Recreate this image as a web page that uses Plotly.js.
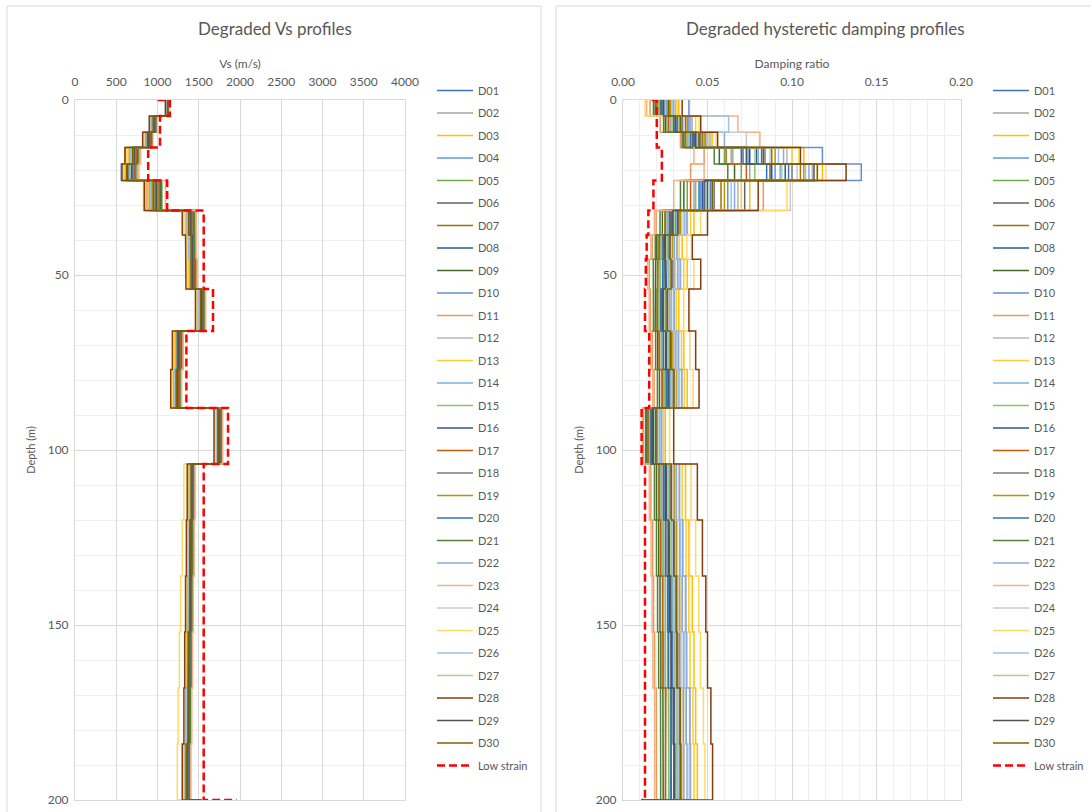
<!DOCTYPE html>
<html>
<head>
<meta charset="utf-8">
<script src="https://cdn.plot.ly/plotly-3.0.1.min.js"></script>
<style>
html,body{margin:0;padding:0;background:#ffffff;}
#chart{width:1091px;height:812px;}
</style>
</head>
<body>
<div id="chart"></div>
<script>
// ---------- layer geometry (m) ----------
const layerTop    = [0, 4.6, 9.2, 13.6, 18.3, 23, 31.6, 38.6, 45.5, 54, 66, 77, 88, 104, 120, 136, 152, 168, 184];
const layerBottom = [4.6, 9.2, 13.6, 18.3, 23, 31.6, 38.6, 45.5, 54, 66, 77, 88, 104, 120, 136, 152, 168, 184, 200];
const baseDepth = 200;

const seriesNames = ['D01','D02','D03','D04','D05','D06','D07','D08','D09','D10',
                     'D11','D12','D13','D14','D15','D16','D17','D18','D19','D20',
                     'D21','D22','D23','D24','D25','D26','D27','D28','D29','D30'];
const seriesColors = ['#4472C4','#A5A5A5','#FFC000','#5B9BD5','#70AD47','#636363','#997300','#255E91','#43682B','#698ED0',
                      '#F1975A','#B7B7B7','#FFCD33','#7CAFDD','#8CC168','#2F5597','#C55A11','#7B7B7B','#BF9000','#2E75B6',
                      '#548235','#8FAADC','#F4B183','#C9C9C9','#FFD966','#9DC3E6','#A9D18E','#843C0C','#525252','#7F6000'];

// ---------- degraded Vs (m/s), one value per layer ----------
const vsD01 = [1120, 945, 881, 695, 659, 951, 1381, 1403, 1410, 1519, 1243, 1223, 1735, 1405, 1395, 1385, 1375, 1365, 1350];
const vsD02 = [1131, 965, 908, 735, 705, 1009, 1417, 1431, 1439, 1545, 1271, 1251, 1757, 1425, 1415, 1405, 1395, 1385, 1372];
const vsD03 = [1106, 920, 847, 645, 601, 878, 1336, 1368, 1374, 1486, 1208, 1188, 1707, 1380, 1370, 1360, 1350, 1340, 1322];
const vsD04 = [1125, 955, 894, 715, 682, 980, 1399, 1417, 1425, 1532, 1257, 1237, 1746, 1415, 1405, 1395, 1385, 1375, 1361];
const vsD05 = [1134, 970, 915, 745, 716, 1023, 1426, 1438, 1447, 1551, 1278, 1258, 1762, 1430, 1420, 1410, 1400, 1390, 1377];
const vsD06 = [1128, 960, 901, 725, 693, 900, 1408, 1424, 1432, 1538, 1264, 1244, 1751, 1420, 1410, 1400, 1390, 1380, 1366];
const vsD07 = [1117, 940, 874, 685, 647, 936, 1372, 1396, 1403, 1512, 1236, 1216, 1729, 1400, 1390, 1380, 1370, 1360, 1344];
const vsD08 = [1122, 950, 888, 705, 670, 965, 1390, 1410, 1418, 1525, 1250, 1230, 1740, 1410, 1400, 1390, 1380, 1370, 1355];
const vsD09 = [1137, 977, 919, 757, 725, 1040, 1437, 1443, 1456, 1556, 1287, 1263, 1770, 1433, 1427, 1413, 1407, 1393, 1385];
const vsD10 = [1114, 935, 867, 615, 560, 922, 1363, 1389, 1396, 1506, 1229, 1209, 1724, 1395, 1385, 1375, 1365, 1355, 1339];
const vsD11 = [1145, 990, 942, 785, 762, 860, 1462, 1466, 1476, 1577, 1306, 1286, 1784, 1450, 1440, 1430, 1420, 1410, 1399];
const vsD12 = [1111, 930, 861, 665, 624, 907, 1354, 1382, 1389, 1499, 1222, 1202, 1718, 1390, 1380, 1370, 1360, 1350, 1333];
const vsD13 = [1109, 925, 854, 655, 613, 893, 1345, 1375, 1381, 1493, 1215, 1195, 1713, 1385, 1375, 1365, 1355, 1345, 1328];
const vsD14 = [1120, 948, 891, 702, 674, 962, 1393, 1407, 1421, 1522, 1253, 1227, 1743, 1408, 1402, 1387, 1383, 1367, 1358];
const vsD15 = [1129, 963, 911, 731, 708, 1005, 1420, 1428, 1442, 1542, 1274, 1248, 1760, 1423, 1417, 1402, 1398, 1382, 1375];
const vsD16 = [1123, 953, 897, 712, 686, 976, 1402, 1414, 1428, 1529, 1260, 1234, 1749, 1413, 1407, 1392, 1388, 1372, 1364];
const vsD17 = [1132, 968, 917, 742, 719, 1020, 1429, 1435, 1449, 1548, 1281, 1255, 1765, 1428, 1422, 1407, 1403, 1387, 1380];
const vsD18 = [1118, 943, 884, 692, 662, 948, 1384, 1400, 1413, 1516, 1246, 1220, 1738, 1403, 1397, 1382, 1378, 1362, 1353];
const vsD19 = [1115, 938, 877, 682, 650, 933, 1375, 1393, 1406, 1509, 1239, 1213, 1732, 1398, 1392, 1377, 1373, 1357, 1347];
const vsD20 = [1126, 958, 904, 722, 697, 991, 1411, 1421, 1435, 1535, 1267, 1241, 1754, 1418, 1412, 1397, 1393, 1377, 1369];
const vsD21 = [1139, 980, 928, 765, 739, 1052, 1444, 1452, 1461, 1564, 1292, 1272, 1773, 1440, 1430, 1420, 1410, 1400, 1388];
const vsD22 = [1109, 928, 850, 662, 627, 904, 1357, 1379, 1392, 1496, 1225, 1199, 1721, 1388, 1382, 1367, 1363, 1347, 1336];
const vsD23 = [1147, 905, 825, 795, 774, 1096, 1471, 1473, 1483, 1584, 1313, 1293, 1790, 1455, 1445, 1435, 1425, 1415, 1405];
const vsD24 = [1119, 942, 840, 688, 644, 850, 1369, 1399, 1400, 1515, 1233, 1219, 1726, 1402, 1388, 1383, 1367, 1363, 1341];
const vsD25 = [1140, 910, 834, 625, 590, 830, 1318, 1354, 1360, 1473, 1194, 1174, 1696, 1320, 1300, 1280, 1265, 1250, 1240];
const vsD26 = [1112, 910, 870, 672, 639, 919, 1366, 1386, 1399, 1503, 1232, 1206, 1727, 1393, 1387, 1372, 1368, 1352, 1342];
const vsD27 = [1124, 952, 885, 708, 667, 968, 1387, 1413, 1415, 1528, 1247, 1233, 1737, 1412, 1398, 1393, 1377, 1373, 1352];
const vsD28 = [1095, 900, 820, 605, 570, 840, 1300, 1340, 1345, 1460, 1180, 1160, 1685, 1360, 1350, 1340, 1330, 1320, 1300];
const vsD29 = [1127, 957, 891, 718, 640, 983, 1396, 1420, 1422, 1535, 1254, 1240, 1743, 1417, 1403, 1398, 1382, 1378, 1358];
const vsD30 = [1121, 947, 878, 698, 625, 954, 1378, 1406, 1407, 1522, 1240, 1226, 1732, 1407, 1393, 1388, 1372, 1368, 1347];
const vsDegradedBase = 1530;

// ---------- degraded damping ratio, one value per layer ----------
const dmD01 = [0.026, 0.034, 0.045, 0.082, 0.098, 0.052, 0.033, 0.028, 0.029, 0.026, 0.028, 0.030, 0.020, 0.028, 0.030, 0.031, 0.032, 0.034, 0.034];
const dmD02 = [0.021, 0.028, 0.039, 0.065, 0.075, 0.042, 0.026, 0.022, 0.022, 0.021, 0.023, 0.024, 0.016, 0.022, 0.024, 0.025, 0.025, 0.027, 0.027];
const dmD03 = [0.033, 0.040, 0.051, 0.107, 0.118, 0.075, 0.042, 0.035, 0.038, 0.033, 0.036, 0.038, 0.025, 0.037, 0.039, 0.041, 0.042, 0.043, 0.044];
const dmD04 = [0.024, 0.031, 0.042, 0.074, 0.090, 0.046, 0.029, 0.025, 0.025, 0.0235, 0.0255, 0.027, 0.0177, 0.025, 0.027, 0.028, 0.0287, 0.030, 0.030];
const dmD05 = [0.020, 0.026, 0.037, 0.060, 0.070, 0.038, 0.0247, 0.021, 0.0207, 0.020, 0.0216, 0.023, 0.015, 0.021, 0.0225, 0.0233, 0.024, 0.025, 0.0253];
const dmD06 = [0.022, 0.030, 0.041, 0.070, 0.087, 0.072, 0.028, 0.0236, 0.0237, 0.0223, 0.024, 0.0255, 0.0168, 0.0238, 0.0254, 0.0264, 0.027, 0.0283, 0.0286];
const dmD07 = [0.028, 0.037, 0.047, 0.088, 0.105, 0.058, 0.0345, 0.029, 0.0305, 0.0274, 0.030, 0.0314, 0.0208, 0.030, 0.032, 0.0332, 0.034, 0.0355, 0.036];
const dmD08 = [0.025, 0.033, 0.043, 0.079, 0.096, 0.050, 0.031, 0.0262, 0.027, 0.0247, 0.027, 0.0284, 0.0187, 0.0268, 0.0286, 0.0297, 0.0304, 0.0318, 0.0322];
const dmD09 = [0.019, 0.025, 0.036, 0.057, 0.066, 0.036, 0.0233, 0.020, 0.0193, 0.019, 0.0205, 0.0216, 0.0141, 0.0198, 0.0211, 0.0219, 0.0224, 0.0236, 0.0238];
const dmD10 = [0.039, 0.039, 0.049, 0.118, 0.141, 0.062, 0.0363, 0.0303, 0.0323, 0.0287, 0.0314, 0.033, 0.0218, 0.0316, 0.0337, 0.0351, 0.0358, 0.0374, 0.038];
const dmD11 = [0.016, 0.022, 0.034, 0.048, 0.040, 0.083, 0.0196, 0.0173, 0.0156, 0.0162, 0.0174, 0.0184, 0.012, 0.0165, 0.0176, 0.0181, 0.0187, 0.0197, 0.0198];
const dmD12 = [0.031, 0.041, 0.052, 0.097, 0.112, 0.068, 0.0381, 0.0317, 0.0341, 0.0301, 0.033, 0.0346, 0.023, 0.0332, 0.0355, 0.0369, 0.0378, 0.0394, 0.040];
const dmD13 = [0.032, 0.043, 0.053, 0.100, 0.115, 0.070, 0.040, 0.0332, 0.036, 0.0315, 0.0346, 0.0363, 0.0241, 0.035, 0.0373, 0.0389, 0.0397, 0.0414, 0.0421];
const dmD14 = [0.026, 0.035, 0.044, 0.080, 0.093, 0.049, 0.0315, 0.0265, 0.0268, 0.025, 0.0272, 0.0281, 0.0185, 0.027, 0.0289, 0.0294, 0.0307, 0.0315, 0.0325];
const dmD15 = [0.021, 0.029, 0.038, 0.064, 0.078, 0.043, 0.0265, 0.0226, 0.0219, 0.0213, 0.0226, 0.0244, 0.016, 0.0227, 0.0236, 0.0251, 0.0252, 0.0269, 0.0272];
const dmD16 = [0.023, 0.032, 0.042, 0.075, 0.088, 0.047, 0.029, 0.0252, 0.0256, 0.0232, 0.0259, 0.0266, 0.0179, 0.025, 0.0273, 0.0277, 0.029, 0.0297, 0.0307];
const dmD17 = [0.020, 0.027, 0.037, 0.061, 0.073, 0.040, 0.025, 0.0215, 0.0204, 0.0203, 0.0213, 0.0232, 0.0148, 0.0214, 0.0222, 0.0236, 0.0236, 0.0254, 0.025];
const dmD18 = [0.027, 0.035, 0.046, 0.084, 0.100, 0.054, 0.033, 0.0272, 0.029, 0.0257, 0.0287, 0.0296, 0.020, 0.028, 0.0306, 0.0312, 0.0325, 0.0333, 0.0344];
const dmD19 = [0.028, 0.038, 0.048, 0.090, 0.107, 0.060, 0.0342, 0.0292, 0.0302, 0.0277, 0.0296, 0.0317, 0.0205, 0.0302, 0.0317, 0.0335, 0.0337, 0.0358, 0.0357];
const dmD20 = [0.023, 0.030, 0.040, 0.071, 0.085, 0.045, 0.0274, 0.0239, 0.0234, 0.0226, 0.0239, 0.0258, 0.0165, 0.0241, 0.0251, 0.0267, 0.0267, 0.0286, 0.0283];
const dmD21 = [0.018, 0.024, 0.035, 0.054, 0.062, 0.034, 0.0219, 0.0191, 0.0179, 0.018, 0.0193, 0.0204, 0.0133, 0.0186, 0.0198, 0.0205, 0.0211, 0.0222, 0.0223];
const dmD22 = [0.030, 0.040, 0.060, 0.095, 0.110, 0.066, 0.0378, 0.032, 0.0338, 0.0304, 0.0327, 0.0349, 0.0227, 0.0335, 0.0352, 0.0372, 0.0375, 0.0397, 0.0397];
const dmD23 = [0.014, 0.068, 0.081, 0.042, 0.048, 0.030, 0.0186, 0.0165, 0.0146, 0.0155, 0.0165, 0.0176, 0.0114, 0.0156, 0.0166, 0.0172, 0.0177, 0.0187, 0.0187];
const dmD24 = [0.029, 0.036, 0.073, 0.087, 0.103, 0.099, 0.0348, 0.0286, 0.0308, 0.0271, 0.0302, 0.0311, 0.0211, 0.0296, 0.0323, 0.0329, 0.0343, 0.0352, 0.0363];
const dmD25 = [0.013, 0.045, 0.055, 0.104, 0.120, 0.097, 0.0459, 0.0378, 0.0419, 0.0359, 0.0395, 0.0414, 0.0276, 0.0403, 0.043, 0.0448, 0.0458, 0.0476, 0.0485];
const dmD26 = [0.029, 0.0625, 0.050, 0.092, 0.108, 0.064, 0.0366, 0.030, 0.0326, 0.0284, 0.0317, 0.0327, 0.0221, 0.0313, 0.034, 0.0348, 0.0361, 0.0371, 0.0383];
const dmD27 = [0.025, 0.033, 0.044, 0.078, 0.094, 0.051, 0.0305, 0.0259, 0.0273, 0.0244, 0.0267, 0.0287, 0.0189, 0.0265, 0.0283, 0.030, 0.0301, 0.0321, 0.0319];
const dmD28 = [0.035, 0.046, 0.056, 0.105, 0.132, 0.080, 0.050, 0.041, 0.046, 0.039, 0.043, 0.045, 0.030, 0.044, 0.047, 0.049, 0.050, 0.052, 0.053];
const dmD29 = [0.024, 0.031, 0.043, 0.073, 0.113, 0.048, 0.0296, 0.0246, 0.025, 0.0238, 0.0253, 0.0272, 0.0175, 0.0256, 0.0267, 0.0283, 0.0284, 0.0303, 0.0301];
const dmD30 = [0.027, 0.034, 0.045, 0.083, 0.115, 0.053, 0.0324, 0.0278, 0.0284, 0.0263, 0.0281, 0.0302, 0.0194, 0.0286, 0.030, 0.0318, 0.0319, 0.0339, 0.0338];
const dmDegradedBase = 0.011;

// ---------- low strain profiles ----------
const lowVs = [1150, 1030, 1030, 887, 887, 1117, 1560, 1560, 1560, 1673, 1350, 1350, 1855, 1560, 1560, 1560, 1560, 1560, 1560];
const lowVsSurface = 1000;
const lowVsBase = 1960;
const lowDamp = [0.020, 0.020, 0.020, 0.023, 0.023, 0.018, 0.015, 0.014, 0.0135, 0.013, 0.0155, 0.0155, 0.011, 0.013, 0.013, 0.013, 0.013, 0.013, 0.013];
const lowDampSurface = 0.017;
const lowDampBase = 0.011;

const vsSeries = [vsD01,vsD02,vsD03,vsD04,vsD05,vsD06,vsD07,vsD08,vsD09,vsD10,vsD11,vsD12,vsD13,vsD14,vsD15,
                  vsD16,vsD17,vsD18,vsD19,vsD20,vsD21,vsD22,vsD23,vsD24,vsD25,vsD26,vsD27,vsD28,vsD29,vsD30];
const dmSeries = [dmD01,dmD02,dmD03,dmD04,dmD05,dmD06,dmD07,dmD08,dmD09,dmD10,dmD11,dmD12,dmD13,dmD14,dmD15,
                  dmD16,dmD17,dmD18,dmD19,dmD20,dmD21,dmD22,dmD23,dmD24,dmD25,dmD26,dmD27,dmD28,dmD29,dmD30];

function stepProfile(vals, surfaceVal, baseVal) {
  const xs = [], ys = [];
  if (surfaceVal !== null) { xs.push(surfaceVal); ys.push(0); }
  for (let i = 0; i < vals.length; i++) {
    xs.push(vals[i]); ys.push(layerTop[i]);
    xs.push(vals[i]); ys.push(layerBottom[i]);
  }
  if (baseVal !== null) { xs.push(baseVal); ys.push(baseDepth); }
  return {x: xs, y: ys};
}

const traces = [];
seriesNames.forEach((nm, i) => {
  const p = stepProfile(vsSeries[i], null, vsDegradedBase);
  traces.push({type:'scatter', mode:'lines', name:nm, x:p.x, y:p.y, xaxis:'x', yaxis:'y',
    legend:'legend', legendgroup:'L'+nm, line:{color:seriesColors[i], width:1.5}, hoverinfo:'skip'});
});
{
  const p = stepProfile(lowVs, lowVsSurface, lowVsBase);
  traces.push({type:'scatter', mode:'lines', name:'Low strain', x:p.x, y:p.y, xaxis:'x', yaxis:'y',
    legend:'legend', legendgroup:'Llow', line:{color:'#FF0000', width:2.5, dash:'8px,4px'}, hoverinfo:'skip'});
}
seriesNames.forEach((nm, i) => {
  const p = stepProfile(dmSeries[i], null, dmDegradedBase);
  traces.push({type:'scatter', mode:'lines', name:nm, x:p.x, y:p.y, xaxis:'x2', yaxis:'y2',
    legend:'legend2', legendgroup:'R'+nm, line:{color:seriesColors[i], width:1.5}, hoverinfo:'skip'});
});
{
  const p = stepProfile(lowDamp, lowDampSurface, lowDampBase);
  traces.push({type:'scatter', mode:'lines', name:'Low strain', x:p.x, y:p.y, xaxis:'x2', yaxis:'y2',
    legend:'legend2', legendgroup:'Rlow', line:{color:'#FF0000', width:2.5, dash:'8px,4px'}, hoverinfo:'skip'});
}

const W = 1091, H = 812;
const FONT = 'Lato, "Open Sans", sans-serif';
const TXT = '#595959';
const GRID = '#d9d9d9';
const MINOR = '#efefef';
const CLEAR = 'rgba(0,0,0,0)';
const yDom = [1 - 800/H, 1 - 100/H];

function yAxisCfg(anchor) {
  return {domain:yDom, anchor:anchor, range:[200,0], dtick:50, tick0:0,
    ticks:'outside', ticklen:3, tickcolor:CLEAR,
    showgrid:true, gridcolor:GRID, gridwidth:1, zeroline:false,
    minor:{dtick:10, showgrid:true, gridcolor:MINOR, gridwidth:1, ticks:''},
    showline:true, linecolor:GRID, mirror:true,
    tickfont:{family:FONT, size:12, color:TXT},
    title:{text:'Depth (m)', font:{family:FONT, size:11, color:TXT}, standoff:9},
    fixedrange:true};
}
function xAxisCfg(anchor, dom, range, dtick, fmt, title, minor) {
  const a = {domain:dom, anchor:anchor, side:'top', range:range, dtick:dtick, tick0:0,
    ticks:'outside', ticklen:8, tickcolor:CLEAR,
    showgrid:true, gridcolor:GRID, zeroline:false, showline:true, linecolor:GRID, mirror:true,
    tickfont:{family:FONT, size:12, color:TXT},
    title:{text:title, font:{family:FONT, size:12, color:TXT}, standoff:3}, fixedrange:true};
  if (fmt) a.tickformat = fmt;
  if (minor) a.minor = {dtick:minor, showgrid:true, gridcolor:MINOR, gridwidth:1, ticks:''};
  return a;
}

const layout = {
  width:W, height:H,
  margin:{l:0, r:0, t:0, b:0},
  paper_bgcolor:'#ffffff', plot_bgcolor:'#ffffff',
  font:{family:FONT, color:TXT},
  showlegend:true,
  xaxis:xAxisCfg('y', [75/W, 405/W], [0,4000], 500, null, 'Vs (m/s)', null),
  yaxis:yAxisCfg('x'),
  xaxis2:xAxisCfg('y2', [623/W, 961/W], [0,0.2], 0.05, '.2f', 'Damping ratio', 0.01),
  yaxis2:yAxisCfg('x2'),
  legend:{x:432/W, y:1 - 76/H, xanchor:'left', yanchor:'top', bgcolor:CLEAR,
    font:{family:FONT, size:11, color:TXT}, tracegroupgap:3.5, itemwidth:36, traceorder:'grouped'},
  legend2:{x:988/W, y:1 - 76/H, xanchor:'left', yanchor:'top', bgcolor:CLEAR,
    font:{family:FONT, size:11, color:TXT}, tracegroupgap:3.5, itemwidth:36, traceorder:'grouped'},
  annotations:[
    {text:'Degraded Vs profiles', xref:'paper', yref:'paper', x:275/W, y:1 - 29/H, xanchor:'center', yanchor:'middle',
     showarrow:false, font:{family:FONT, size:17, color:TXT}},
    {text:'Degraded hysteretic damping profiles', xref:'paper', yref:'paper', x:825/W, y:1 - 29/H, xanchor:'center', yanchor:'middle',
     showarrow:false, font:{family:FONT, size:17, color:TXT}}
  ],
  shapes:[
    {type:'rect', xref:'paper', yref:'paper', x0:7/W, x1:541/W, y0:-0.05, y1:1 - 6/H, line:{color:'#d9d9d9', width:1}, fillcolor:CLEAR},
    {type:'rect', xref:'paper', yref:'paper', x0:556/W, x1:1.05, y0:-0.05, y1:1 - 6/H, line:{color:'#d9d9d9', width:1}, fillcolor:CLEAR}
  ]
};

Plotly.newPlot('chart', traces, layout, {staticPlot:true, displayModeBar:false});
</script>
</body>
</html>
